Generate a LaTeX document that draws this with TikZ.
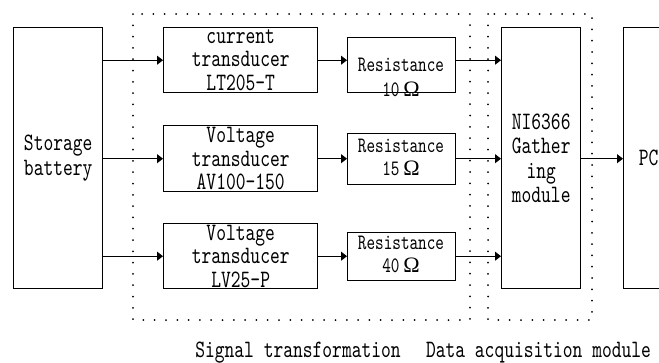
\documentclass[tikz,border=0pt]{standalone}
\usepackage{fontspec}
\setmainfont[FakeStretch=0.745]{lmmono10-regular.otf}
\newfontfamily\omegafont{Liberation Serif}
\newcommand{\ohm}{{\omegafont Ω}}
\usetikzlibrary{arrows.meta}
\begin{document}
\begin{tikzpicture}[x=1pt,y=-1pt,
  box/.style={draw,line width=1.4pt,inner sep=0pt,anchor=north west},
  btext/.style={inner sep=0pt,align=center,font=\fontsize{25}{23.5}\selectfont},
  rtext/.style={inner sep=0pt,align=center,font=\fontsize{22}{23}\selectfont},
  caption/.style={inner sep=0pt,font=\fontsize{25}{23.5}\selectfont},
  conn/.style={line width=0.9pt,-{Triangle[length=6pt,width=9pt]}},
  dotbox/.style={line width=2pt,line cap=round,dash pattern=on 0pt off 11.3pt}]
\useasboundingbox (0,0) rectangle (659,362);

% battery, transducers, resistances, acquisition card, PC
\node[box,minimum width=89pt,minimum height=261pt] (bat) at (13,27) {};
\node[box,minimum width=154pt,minimum height=65pt] (t1) at (163,27) {};
\node[box,minimum width=154pt,minimum height=66pt] (t2) at (163,125) {};
\node[box,minimum width=154pt,minimum height=65pt] (t3) at (163,223) {};
\node[box,minimum width=108pt,minimum height=55pt] (r1) at (347,37) {};
\node[box,minimum width=108pt,minimum height=51pt] (r2) at (347,133) {};
\node[box,minimum width=108pt,minimum height=48pt] (r3) at (347,232) {};
\node[box,minimum width=79pt,minimum height=261pt] (ni) at (501,27) {};
\node[box,minimum width=50pt,minimum height=261pt] (pc) at (623,27) {};

% box texts
\node[btext,font=\fontsize{25}{25}\selectfont] (batt) at (bat.center) {Storage\\battery};
\node[btext] (t1t) at (t1.center) {current\\transducer\\LT205-T};
\node[btext] (t2t) at (t2.center) {Voltage\\transducer\\AV100-150};
\node[btext] (t3t) at (t3.center) {Voltage\\transducer\\LV25-P};
\node[rtext,font=\fontsize{22}{25.5}\selectfont] (r1t) at (401,77.5) {Resistance\\10\,\ohm};
\node[rtext] (r2t) at (401,157) {Resistance\\15\,\ohm};
\node[rtext] (r3t) at (401,254.5) {Resistance\\40\,\ohm};
\node[btext,font=\fontsize{25}{24.3}\selectfont] (nit) at (ni.center) {NI6366\\Gather\\ing\\module};
\node[btext] (pct) at (pc.center) {PC};

% dotted group frames
\draw[dotbox] (133,14) rectangle (470,320);
\draw[dotbox] (488,14) rectangle (592,320);

% signal flow
\draw[conn] (bat.east |- t1.west) -- (t1.west);
\draw[conn] (bat.east |- t2.west) -- (t2.west);
\draw[conn] (bat.east |- t3.west) -- (t3.west);
\draw[conn] (t1.east) -- (r1.west |- t1.east);
\draw[conn] (t2.east) -- (r2.west |- t2.east);
\draw[conn] (t3.east) -- (r3.west |- t3.east);
\draw[conn] (r1.east |- t1.east) -- (ni.west |- t1.east);
\draw[conn] (r2.east |- t2.east) -- (ni.west |- t2.east);
\draw[conn] (r3.east |- t3.east) -- (ni.west |- t3.east);
\draw[conn] (ni.east |- t2.east) -- (pc.west |- t2.east);

% group captions
\node[caption] (cap1) at (298,353) {Signal transformation};
\node[caption] (cap2) at (538.5,353) {Data acquisition module};
\end{tikzpicture}
\end{document}
